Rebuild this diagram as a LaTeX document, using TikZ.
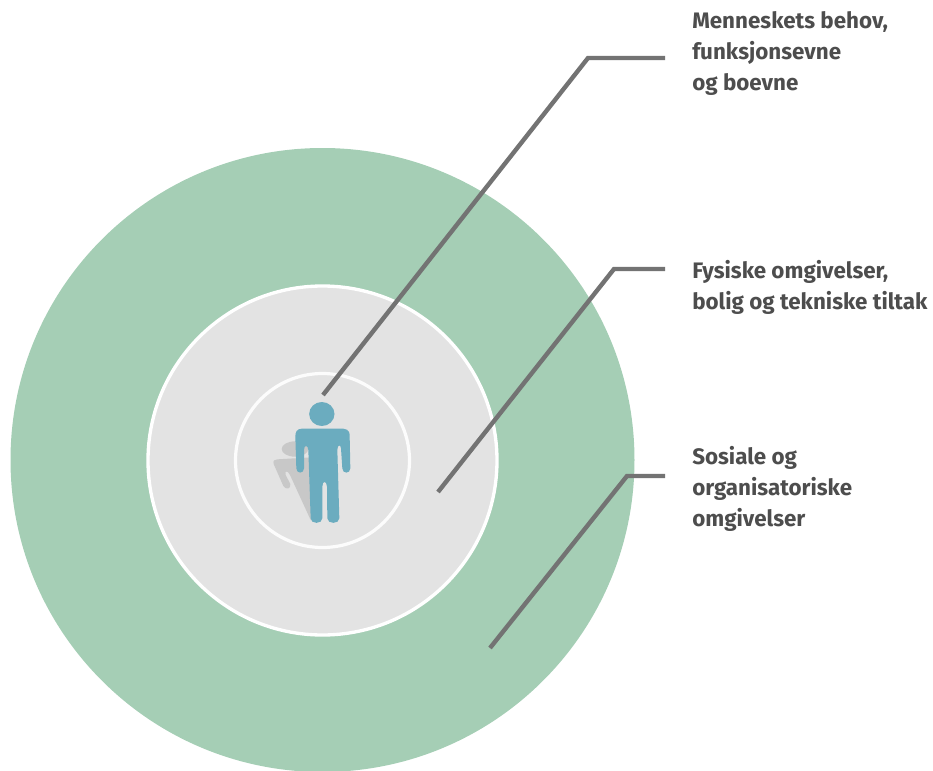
\documentclass[tikz,border=0pt]{standalone}
\usepackage{fontspec}
\setmainfont{Fira Sans}[BoldFont={Fira Sans Bold}]
\definecolor{ringgreen}{HTML}{A5CEB5}
\definecolor{ringgrey}{HTML}{E3E3E3}
\definecolor{figblue}{HTML}{6BACBF}
\definecolor{figshadow}{HTML}{C8C8C8}
\definecolor{leadgrey}{HTML}{737373}
\definecolor{labelgrey}{HTML}{4D4D4D}
\tikzset{
  leader/.style={draw=leadgrey,line width=3.3pt,line join=miter},
  labeltext/.style={anchor=north west,inner sep=0pt,align=left,text=labelgrey,font=\fontsize{16.8}{23.1}\selectfont\bfseries},
  ring/.style={circle,inner sep=0pt,minimum size=#1*0.75pt},
}
\begin{document}
\begin{tikzpicture}[x=0.75pt,y=-0.75pt]
\useasboundingbox (0,0) rectangle (933,771);
\begin{scope}
\clip (0,0) rectangle (933,771);
\node[ring=624,fill=ringgreen] (outer) at (322.5,460) {};
\node[ring=349,fill=ringgrey,draw=white,line width=2.5pt] (middle) at (322.5,460.5) {};
\node[ring=174,draw=white!90!ringgrey,line width=2.4pt] (inner) at (322.5,460.5) {};
\end{scope}
% figure
\begin{scope}[shift={(240,370)},x=0.25pt,y=-0.25pt]
\fill[figshadow] (165,237) ellipse [x radius=40,y radius=23];
\fill[figshadow] (112,268) -- (215,262) -- (230,455) -- (212,450) -- (150,315)
  .. controls (143,300) and (133,302) .. (137,315) -- (151,342)
  .. controls (153,358) and (138,360) .. (130,348) -- (101,282)
  .. controls (98,272) and (104,268) .. (112,268) -- cycle;
\fill[figblue] (245.5,132) ellipse [x radius=38,y radius=36];
\fill[figblue] (185,176) -- (310,176) .. controls (329,178) and (329,190) .. (329,200)
  -- (331,295) .. controls (331,312) and (307,312) .. (307,295)
  -- (303,235) .. controls (302,222) and (292,224) .. (292,240)
  -- (298,445) .. controls (298,463) and (262,463) .. (262,445)
  -- (261,350) .. controls (260,331) and (247,331) .. (247,350)
  -- (247,445) .. controls (247,463) and (212,463) .. (212,445)
  -- (205,240) .. controls (204,224) and (192,224) .. (192,240)
  -- (192,295) .. controls (192,312) and (169,312) .. (169,295)
  -- (166,200) .. controls (166,186) and (170,177) .. (185,176) -- cycle;
\end{scope}
% labels
\node[labeltext] (behov) at (692,11.5) {Menneskets behov,\\funksjonsevne\\og boevne};
\node[labeltext] (fysisk) at (692,260.5) {Fysiske omgivelser,\\bolig og tekniske tiltak};
\node[labeltext] (sosial) at (692,446.5) {Sosiale og\\organisatoriske\\omgivelser};
% connectors
\coordinate (a0) at (323,395);
\coordinate (a1) at (588,58);
\coordinate (a2) at (665,58);
\coordinate (b0) at (438,492);
\coordinate (b1) at (614,269);
\coordinate (b2) at (665,269);
\coordinate (c0) at (490,648);
\coordinate (c1) at (627,476);
\coordinate (c2) at (665,476);
\draw[leader] (a0) -- (a1) -- (a2);
\draw[leader] (b0) -- (b1) -- (b2);
\draw[leader] (c0) -- (c1) -- (c2);
\end{tikzpicture}
\end{document}
